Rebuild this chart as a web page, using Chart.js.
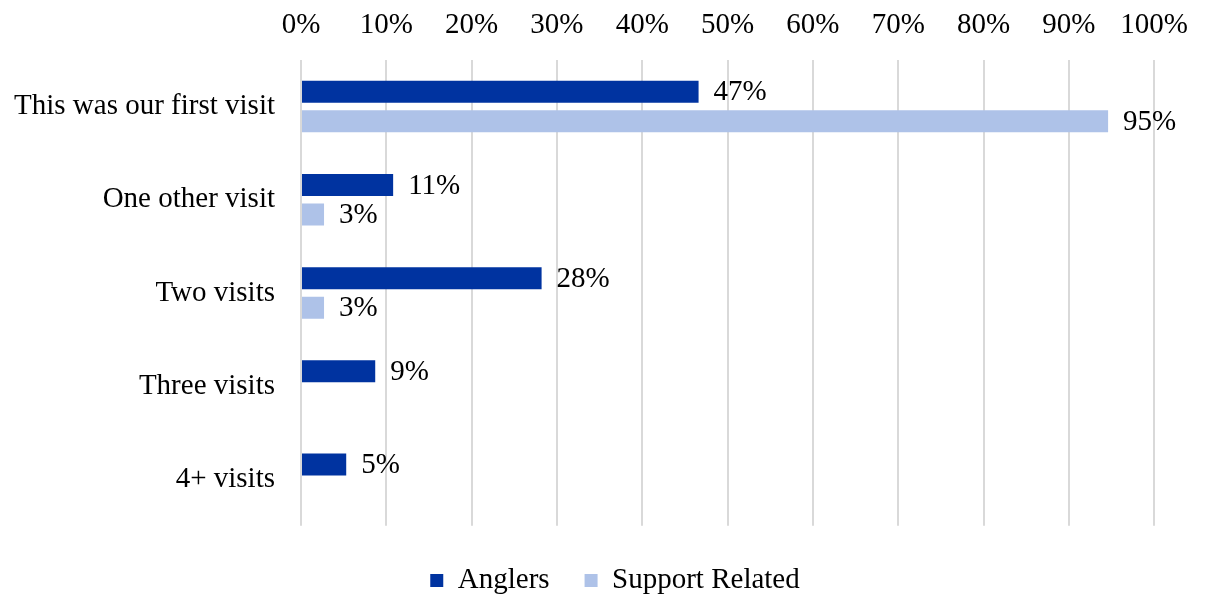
<!DOCTYPE html>
<html>
<head>
  <title>Visits</title>
  <script src="https://cdn.jsdelivr.net/npm/chart.js"></script>
  <style>
    html, body { margin: 0; padding: 0; background: #fff; }
    #wrap { width: 1205px; height: 599px; }
  </style>
</head>
<body>
  <div id="wrap"><canvas id="visitsChart"></canvas></div>

  <script>
    const categories = ["This was our first visit", "One other visit", "Two visits", "Three visits", "4+ visits"];
    const anglers = [46.6, 10.8, 28.2, 8.7, 5.3];
    const supportRelated = [94.6, 2.7, 2.7, null, null];
    const xTicks = [0, 10, 20, 30, 40, 50, 60, 70, 80, 90, 100];

    const serif = "'Liberation Serif', 'Times New Roman', serif";
    const fontSize = 29;

    // value labels to the right of each bar
    const barLabels = {
      id: "barLabels",
      afterDatasetsDraw(chart) {
        const ctx = chart.ctx;
        ctx.save();
        ctx.font = fontSize + "px " + serif;
        ctx.fillStyle = "#000";
        ctx.textBaseline = "middle";
        ctx.textAlign = "left";
        chart.data.datasets.forEach((ds, i) => {
          chart.getDatasetMeta(i).data.forEach((bar, j) => {
            const v = ds.data[j];
            if (v == null) return;
            ctx.fillText(Math.round(v) + "%", bar.x + 15, bar.y + 1);
          });
        });
        ctx.restore();
      }
    };

    // legend sits a bit right of the canvas centre in the original
    const legendShift = {
      id: "legendShift",
      afterLayout(chart) {
        chart.legend.left += 68;
      }
    };

    new Chart(document.getElementById("visitsChart"), {
      type: "bar",
      data: {
        labels: categories,
        datasets: [
          { label: "Anglers", data: anglers, backgroundColor: "#0033A0",
            categoryPercentage: 0.634, barPercentage: 0.745 },
          { label: "Support Related", data: supportRelated, backgroundColor: "#AEC2E8",
            categoryPercentage: 0.634, barPercentage: 0.745 }
        ]
      },
      options: {
        indexAxis: "y",
        responsive: true,
        maintainAspectRatio: false,
        animation: false,
        layout: { padding: { top: 0, right: 43, bottom: -6, left: 0 } },
        scales: {
          x: {
            position: "top",
            min: 0,
            max: 100,
            afterFit: s => { s.height = 60; },
            afterBuildTicks: s => { s.ticks = xTicks.map(v => ({ value: v })); },
            ticks: {
              callback: v => v + "%",
              color: "#000",
              font: { family: serif, size: fontSize },
              padding: 17,
              maxRotation: 0
            },
            grid: { color: "#D9D9D9", lineWidth: 2, drawTicks: false },
            border: { display: false }
          },
          y: {
            afterFit: s => { s.width = 301; },
            ticks: {
              color: "#000",
              font: { family: serif, size: fontSize },
              padding: 18
            },
            grid: { display: false },
            border: { display: false }
          }
        },
        plugins: {
          legend: {
            position: "bottom",
            title: { display: true, text: "", padding: { top: 4, bottom: 0 }, font: { size: 1 } },
            labels: {
              color: "#000",
              font: { family: serif, size: fontSize },
              boxWidth: 13,
              boxHeight: 13,
              padding: 35
            }
          },
          tooltip: { enabled: false }
        }
      },
      plugins: [barLabels, legendShift]
    });
  </script>
</body>
</html>
